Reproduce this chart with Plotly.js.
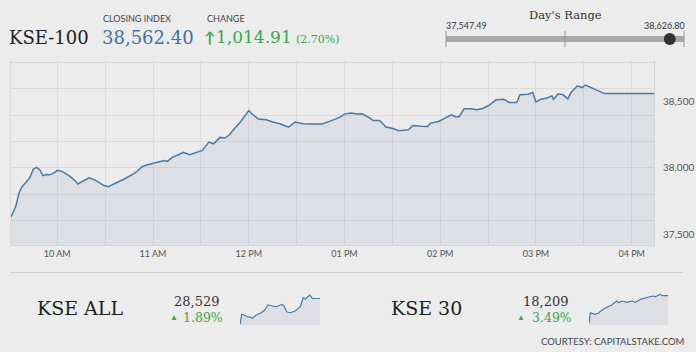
<!DOCTYPE html>
<html>
<head>
<meta charset="utf-8">
<script src="https://cdn.plot.ly/plotly-3.0.1.min.js"></script>
<style>
html,body{margin:0;padding:0;background:#ececec;}
#chart{width:696px;height:352px;}
</style>
</head>
<body>
<div id="chart"></div>
<script>
// ---------- DATA ----------
const DAY = '2019-01-01 ';
const kse100Times = ['09:31','09:34','09:36','09:38','09:41','09:43','09:45','09:47','09:49','09:51','09:53','09:55','09:57','10:00','10:03','10:06','10:08','10:11','10:13','10:16','10:20','10:24','10:27','10:29','10:32','10:34','10:36','10:39','10:42','10:45','10:48','10:50','10:53','10:56','10:59','11:03','11:07','11:09','11:12','11:16','11:19','11:23','11:27','11:31','11:35','11:38','11:42','11:45','11:48','11:50','11:55','12:00','12:02','12:06','12:11','12:15','12:20','12:25','12:29','12:34','12:40','12:46','12:51','12:57','13:00','13:04','13:08','13:11','13:16','13:18','13:22','13:26','13:31','13:34','13:40','13:43','13:48','13:52','13:54','13:59','14:03','14:07','14:10','14:12','14:15','14:19','14:23','14:27','14:31','14:35','14:40','14:43','14:48','14:50','14:55','14:58','15:00','15:03','15:07','15:10','15:11','15:14','15:17','15:20','15:22','15:26','15:29','15:31','15:43','16:14'];
const kse100Values = [37630,37710,37811,37861,37899,37932,37992,38005,37987,37942,37950,37948,37955,37982,37974,37955,37937,37905,37879,37900,37925,37906,37885,37869,37859,37872,37882,37900,37917,37935,37957,37975,38008,38022,38032,38040,38057,38050,38080,38100,38118,38100,38115,38133,38196,38183,38231,38226,38251,38284,38351,38434,38410,38370,38364,38347,38332,38309,38347,38334,38332,38332,38354,38382,38407,38415,38408,38410,38377,38359,38359,38309,38296,38281,38289,38321,38316,38314,38339,38351,38377,38402,38385,38389,38447,38447,38440,38452,38477,38515,38520,38495,38495,38553,38558,38570,38498,38520,38528,38545,38520,38560,38553,38523,38570,38621,38608,38627,38562.4,38562.4];

const kseAllTimes = ['09:31','09:40','09:52','10:09','10:26','10:34','10:52','11:18','11:35','11:52','12:09','12:35','13:01','13:12','13:26','13:43','14:09','14:35','14:49','15:01','15:12','15:23','15:35','15:52','16:14'];
const kseAllValues = [28000,28205,28191,28156,28144,28123,28191,28238,28293,28396,28381,28361,28410,28381,28258,28238,28273,28361,28545,28519,28566,28601,28533,28533,28529];

const kse30Times = ['09:31','09:38','10:00','10:18','10:43','11:27','11:53','12:01','12:19','12:45','13:10','13:28','13:53','14:28','14:54','15:11','15:34','15:46','16:14'];
const kse30Values = [17621,17847,17813,17834,17919,18011,18102,18060,18096,18068,18096,18068,18132,18166,18203,18188,18239,18209,18209];

const gridTimes = ['10:00','10:30','11:00','11:30','12:00','12:30','13:00','13:30','14:00','14:30','15:00','15:30','16:00'];
const gridTimeLabels = ['10 AM','','11 AM','','12 PM','','01 PM','','02 PM','','03 PM','','04 PM'];
const gridValues = [37400,37600,37800,38000,38200,38400,38600,38800];
const labelValues = [37500,38000,38500];

const closingIndex = '38,562.40';
const changeValue = '1,014.91';
const changePct = '(2.70%)';
const dayLow = 37547.49, dayHigh = 38626.80, dayClose = 38562.40;
const dayLowLabel = '37,547.49', dayHighLabel = '38,626.80';
const kseAllLabel = '28,529', kseAllPct = '1.89%';
const kse30Label = '18,209', kse30Pct = '3.49%';

// ---------- LAYOUT HELPERS ----------
const W = 696, H = 352;
const px = x => x / W;
const py = y => 1 - y / H;
const withDay = arr => arr.map(t => DAY + t);

const BLUE = '#4a78a8';
const FILL = 'rgba(74,120,168,0.10)';
const GREEN = '#3aa845';
const SERIF = '"DejaVu Serif", serif';
const SANS = 'Lato, "Open Sans", sans-serif';

const traces = [
  {x: withDay(kse100Times), y: kse100Values, type: 'scatter', mode: 'lines',
   line: {color: BLUE, width: 1.5}, fill: 'tozeroy', fillcolor: FILL,
   xaxis: 'x', yaxis: 'y', hoverinfo: 'skip'},
  {x: withDay(kse100Times), y: kse100Values, type: 'scatter', mode: 'lines',
   line: {width: 0, color: 'rgba(0,0,0,0)'}, xaxis: 'x', yaxis: 'y2', hoverinfo: 'skip', showlegend: false},
  {x: withDay(kseAllTimes), y: kseAllValues, type: 'scatter', mode: 'lines',
   line: {color: BLUE, width: 1.2}, fill: 'tozeroy', fillcolor: FILL,
   xaxis: 'x2', yaxis: 'y3', hoverinfo: 'skip'},
  {x: withDay(kse30Times), y: kse30Values, type: 'scatter', mode: 'lines',
   line: {color: BLUE, width: 1.2}, fill: 'tozeroy', fillcolor: FILL,
   xaxis: 'x3', yaxis: 'y4', hoverinfo: 'skip'}
];

const mainYRange = [37418, 38816];

const layout = {
  width: W, height: H,
  margin: {l: 0, r: 0, t: 0, b: 0},
  paper_bgcolor: '#ececec',
  plot_bgcolor: '#ececec',
  showlegend: false,
  xaxis: {
    domain: [px(11), px(654)], anchor: 'y', type: 'date',
    range: [DAY + '09:31', DAY + '16:14'],
    tickmode: 'array', tickvals: withDay(gridTimes), ticktext: gridTimeLabels,
    showgrid: true, gridcolor: '#dddddd', gridwidth: 1,
    showline: true, linecolor: '#d2d2d2', linewidth: 1,
    ticks: '', zeroline: false,
    tickfont: {family: SANS, size: 9, color: '#555'}
  },
  yaxis: {
    domain: [py(245), py(60)], anchor: 'x', range: mainYRange,
    tickmode: 'array', tickvals: gridValues, showticklabels: false,
    showgrid: true, gridcolor: '#dadada', gridwidth: 1, zeroline: false,
    showline: true, linecolor: '#dadada', ticks: ''
  },
  yaxis2: {
    overlaying: 'y', side: 'right', anchor: 'x', range: mainYRange,
    tickmode: 'array', tickvals: labelValues, tickformat: ',d',
    showgrid: false, zeroline: false, showline: true, linecolor: '#d2d2d2',
    ticks: 'outside', ticklen: 6, tickcolor: 'rgba(0,0,0,0)',
    tickfont: {family: SANS, size: 10, color: '#555'}
  },
  xaxis2: {domain: [px(240), px(320)], anchor: 'y3', type: 'date', visible: false,
    range: [DAY + '09:31', DAY + '16:14']},
  yaxis3: {domain: [py(325), py(293)], anchor: 'x2', visible: false, range: [27986, 28642]},
  xaxis3: {domain: [px(589), px(668)], anchor: 'y4', type: 'date', visible: false,
    range: [DAY + '09:31', DAY + '16:14']},
  yaxis4: {domain: [py(325), py(293)], anchor: 'x3', visible: false, range: [17585, 18267]},
  shapes: [],
  annotations: []
};

// ---------- TEXT ----------
function txt(text, x, y, size, color, family, anchor, extra) {
  layout.annotations.push(Object.assign({
    text: text, xref: 'paper', yref: 'paper', x: px(x), y: py(y),
    xanchor: anchor || 'left', yanchor: 'middle', showarrow: false,
    font: {size: size, color: color, family: family}, borderpad: 0
  }, extra || {}));
}

txt('KSE-100', 8, 37, 18, '#222', SERIF);
txt('CLOSING INDEX', 102, 19, 9, '#444', SANS);
txt(closingIndex, 101, 37, 18, '#3f72aa', SERIF);
txt('CHANGE', 206, 19, 9, '#444', SANS);
txt('\u2191', 209, 37, 15, GREEN, SANS, 'center', {font: {size: 15, color: GREEN, family: SANS, weight: 'bold'}});
txt(changeValue, 215, 37, 17, GREEN, SERIF);
txt(changePct, 295, 39, 11, GREEN, SERIF);

txt("Day's Range", 565, 15, 11.5, '#333', SERIF, 'center');
txt(dayLowLabel, 445, 25, 9, '#333', SANS);
txt(dayHighLabel, 686, 25, 9, '#333', SANS, 'right');

// range bar
const barL = 446, barR = 684, barY = 39;
layout.shapes.push({type: 'line', xref: 'paper', yref: 'paper',
  x0: px(barL), x1: px(barR), y0: py(barY), y1: py(barY),
  line: {color: '#a9a9a9', width: 6}});
[barL, (barL + barR) / 2, barR].forEach(x => layout.shapes.push({
  type: 'line', xref: 'paper', yref: 'paper', x0: px(x), x1: px(x), y0: py(31), y1: py(47),
  line: {color: '#9a9a9a', width: 1}}));
const dotX = barL + (barR - barL) * (dayClose - dayLow) / (dayHigh - dayLow);
layout.shapes.push({type: 'circle', xref: 'paper', yref: 'paper',
  x0: px(dotX - 6), x1: px(dotX + 6), y0: py(barY + 6), y1: py(barY - 6),
  fillcolor: '#333', line: {color: '#333', width: 0}});

// separator
layout.shapes.push({type: 'line', xref: 'paper', yref: 'paper',
  x0: px(10), x1: px(683), y0: py(272.5), y1: py(272.5),
  line: {color: '#cfcfcf', width: 1}});

// bottom panel
txt('KSE ALL', 36, 308, 19, '#222', SERIF);
txt(kseAllLabel, 197, 301, 13, '#333', SERIF, 'center');
txt('\u25B2', 174, 317, 8, GREEN, SANS, 'center');
txt(kseAllPct, 182, 317, 12.5, GREEN, SERIF);

txt('KSE 30', 390, 308, 19, '#222', SERIF);
txt(kse30Label, 546, 301, 13, '#333', SERIF, 'center');
txt('\u25B2', 521, 317, 8, GREEN, SANS, 'center');
txt(kse30Pct, 531, 317, 12.5, GREEN, SERIF);

txt('COURTESY: CAPITALSTAKE.COM', 685, 341, 9.5, '#444', SANS, 'right');

Plotly.newPlot('chart', traces, layout, {staticPlot: true, displayModeBar: false});
</script>
</body>
</html>
